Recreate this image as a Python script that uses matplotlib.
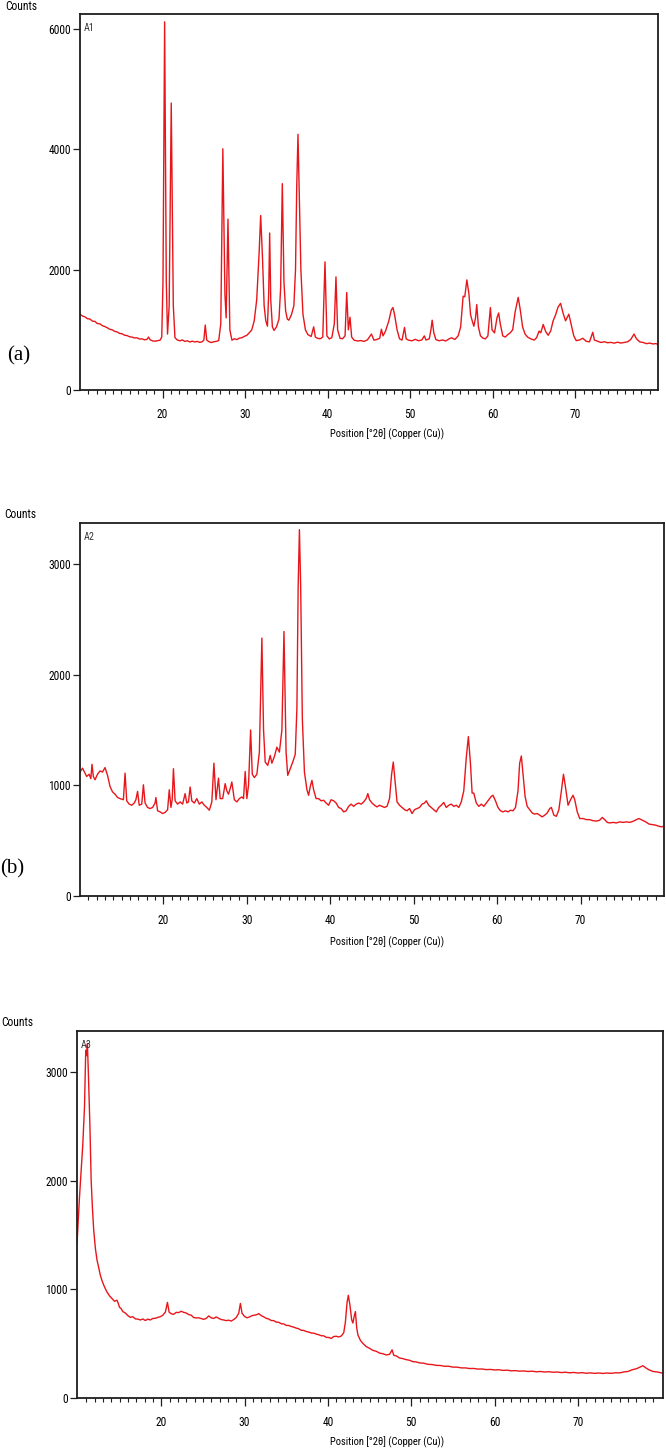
import numpy as np
import matplotlib
matplotlib.use("Agg")
import matplotlib.pyplot as plt
from matplotlib import font_manager
from matplotlib.ticker import FixedLocator

# (2theta, counts)
a1_points = [
    (10.0, 1260), (10.3, 1230), (10.6, 1215), (10.9, 1185), (11.2, 1180), (11.5, 1145),
    (11.8, 1140), (12.1, 1105), (12.4, 1100), (12.7, 1070), (13.0, 1055), (13.3, 1035),
    (13.6, 1010), (13.9, 1000), (14.2, 975), (14.5, 965), (14.8, 940), (15.1, 935),
    (15.4, 910), (15.7, 905), (16.0, 885), (16.3, 880), (16.6, 865), (16.9, 868),
    (17.2, 848), (17.5, 850), (17.8, 835), (18.1, 840), (18.3, 880), (18.5, 835),
    (18.8, 815), (19.1, 812), (19.4, 820), (19.7, 828), (19.9, 880), (20.05, 1800),
    (20.25, 6120), (20.45, 1800), (20.6, 930), (20.8, 1400), (21.05, 4770), (21.3, 1400),
    (21.5, 870), (21.8, 830), (22.1, 818), (22.4, 832), (22.7, 808), (23.0, 818),
    (23.3, 798), (23.6, 812), (23.9, 798), (24.2, 808), (24.5, 792), (24.8, 802),
    (25.0, 830), (25.17, 1080), (25.35, 830), (25.6, 805), (25.9, 788), (26.2, 802),
    (26.5, 808), (26.8, 822), (27.05, 1100), (27.3, 4010), (27.55, 1600), (27.7, 1200),
    (27.92, 2840), (28.15, 1000), (28.4, 828), (28.7, 852), (29.0, 838), (29.3, 862),
    (29.6, 868), (29.9, 892), (30.2, 908), (30.5, 952), (30.8, 1000), (31.1, 1150),
    (31.4, 1500), (31.7, 2300), (31.88, 2900), (32.1, 2200), (32.3, 1400), (32.5, 1150),
    (32.7, 1060), (32.85, 1600), (32.97, 2610), (33.1, 1500), (33.3, 1050), (33.5, 990),
    (33.8, 1050), (34.1, 1180), (34.3, 1700), (34.5, 3430), (34.7, 1800), (34.9, 1320),
    (35.1, 1180), (35.3, 1160), (35.6, 1250), (35.9, 1400), (36.1, 2000), (36.25, 3400),
    (36.4, 4250), (36.55, 3300), (36.75, 2000), (37.0, 1260), (37.3, 1000), (37.6, 920),
    (38.0, 890), (38.3, 1050), (38.5, 880), (38.8, 858), (39.1, 852), (39.4, 880),
    (39.67, 2130), (39.9, 900), (40.2, 848), (40.5, 872), (40.8, 1100), (41.0, 1880),
    (41.2, 1000), (41.5, 858), (41.8, 852), (42.1, 900), (42.3, 1620), (42.5, 1000),
    (42.7, 1210), (42.9, 880), (43.2, 828), (43.6, 815), (44.0, 822), (44.4, 808),
    (44.8, 832), (45.3, 930), (45.6, 828), (46.0, 842), (46.3, 860), (46.5, 1010),
    (46.7, 900), (47.0, 980), (47.4, 1150), (47.7, 1330), (47.9, 1370), (48.1, 1250),
    (48.4, 1000), (48.7, 850), (49.0, 830), (49.3, 1040), (49.5, 850), (49.8, 828),
    (50.2, 818), (50.6, 842), (51.0, 818), (51.4, 832), (51.7, 900), (51.9, 830),
    (52.3, 852), (52.5, 1000), (52.65, 1160), (52.85, 950), (53.1, 838), (53.5, 818),
    (53.9, 832), (54.3, 815), (54.7, 850), (55.0, 868), (55.4, 840), (55.8, 900),
    (56.1, 1050), (56.4, 1560), (56.6, 1550), (56.85, 1830), (57.1, 1600), (57.3, 1250),
    (57.5, 1150), (57.7, 1060), (57.9, 1200), (58.05, 1420), (58.25, 1050), (58.5, 900),
    (58.8, 862), (59.1, 850), (59.4, 900), (59.7, 1370), (59.9, 1000), (60.2, 950),
    (60.5, 1200), (60.7, 1280), (60.9, 1100), (61.2, 900), (61.5, 880), (61.8, 920),
    (62.1, 950), (62.4, 1000), (62.7, 1300), (63.07, 1540), (63.3, 1350), (63.6, 1050),
    (63.9, 930), (64.2, 880), (64.6, 850), (65.0, 830), (65.3, 870), (65.6, 980),
    (65.8, 950), (66.1, 1090), (66.4, 970), (66.7, 910), (67.0, 980), (67.3, 1150),
    (67.6, 1250), (67.9, 1380), (68.2, 1440), (68.5, 1280), (68.8, 1150), (69.2, 1260),
    (69.5, 1080), (69.8, 900), (70.1, 820), (70.5, 832), (70.9, 860), (71.3, 810),
    (71.7, 800), (72.1, 960), (72.3, 830), (72.7, 810), (73.1, 790), (73.5, 802),
    (73.9, 785), (74.3, 792), (74.7, 778), (75.1, 795), (75.5, 780), (75.9, 790),
    (76.3, 800), (76.7, 840), (77.1, 930), (77.4, 850), (77.8, 800), (78.2, 790),
    (78.6, 770), (79.0, 780), (79.4, 765), (79.7, 772), (80.0, 760),
]

a2_points = [
    (10.0, 1120), (10.3, 1155), (10.6, 1110), (10.8, 1080), (11.1, 1100), (11.3, 1060),
    (11.44, 1190), (11.6, 1080), (11.8, 1050), (12.1, 1100), (12.4, 1130), (12.7, 1120),
    (13.0, 1160), (13.3, 1090), (13.6, 990), (13.9, 940), (14.2, 920), (14.5, 890),
    (14.8, 880), (15.2, 870), (15.4, 1110), (15.6, 860), (15.9, 830), (16.2, 820),
    (16.5, 840), (16.7, 870), (16.9, 945), (17.1, 820), (17.4, 830), (17.6, 1005),
    (17.8, 840), (18.1, 800), (18.4, 790), (18.7, 800), (19.0, 840), (19.1, 890),
    (19.3, 770), (19.6, 760), (19.9, 745), (20.2, 755), (20.5, 780), (20.7, 960),
    (20.9, 800), (21.05, 870), (21.2, 1150), (21.4, 860), (21.7, 830), (22.0, 850),
    (22.3, 830), (22.6, 925), (22.8, 840), (23.0, 850), (23.2, 985), (23.4, 860),
    (23.7, 840), (24.0, 880), (24.3, 830), (24.6, 850), (24.9, 820), (25.2, 800),
    (25.5, 775), (25.8, 850), (26.05, 1200), (26.3, 870), (26.6, 1065), (26.8, 880),
    (27.1, 880), (27.4, 1015), (27.6, 950), (27.8, 920), (28.0, 970), (28.2, 1030),
    (28.5, 870), (28.8, 850), (29.1, 880), (29.4, 895), (29.6, 880), (29.8, 1125),
    (30.0, 880), (30.2, 1000), (30.45, 1500), (30.65, 1100), (30.9, 1070), (31.2, 1100),
    (31.5, 1300), (31.8, 2330), (32.0, 1500), (32.2, 1210), (32.5, 1180), (32.8, 1270),
    (33.0, 1200), (33.3, 1260), (33.6, 1345), (33.9, 1300), (34.2, 1500), (34.45, 2390),
    (34.7, 1300), (34.9, 1090), (35.2, 1150), (35.5, 1210), (35.8, 1280), (36.0, 1700),
    (36.15, 2800), (36.3, 3310), (36.45, 2800), (36.65, 1600), (36.9, 1120), (37.2, 960),
    (37.4, 910), (37.6, 990), (37.8, 1045), (38.0, 960), (38.3, 880), (38.6, 880),
    (38.9, 860), (39.2, 865), (39.5, 840), (39.8, 820), (40.1, 870), (40.4, 860),
    (40.7, 840), (41.0, 800), (41.3, 790), (41.6, 760), (41.9, 770), (42.2, 810),
    (42.5, 830), (42.8, 810), (43.1, 830), (43.4, 840), (43.7, 830), (44.0, 850),
    (44.3, 880), (44.5, 925), (44.7, 870), (45.0, 840), (45.3, 820), (45.6, 805),
    (45.9, 820), (46.2, 810), (46.5, 800), (46.8, 810), (47.1, 880), (47.35, 1100),
    (47.55, 1210), (47.75, 1050), (48.0, 850), (48.3, 820), (48.6, 800), (48.9, 780),
    (49.2, 770), (49.5, 790), (49.8, 745), (50.1, 780), (50.4, 790), (50.7, 800),
    (51.0, 830), (51.3, 840), (51.5, 860), (51.8, 820), (52.1, 800), (52.4, 780),
    (52.7, 760), (53.0, 800), (53.3, 820), (53.6, 845), (53.9, 800), (54.2, 820),
    (54.5, 830), (54.8, 810), (55.1, 820), (55.4, 800), (55.7, 850), (56.0, 950),
    (56.3, 1250), (56.55, 1440), (56.8, 1200), (57.0, 930), (57.2, 930), (57.5, 840),
    (57.8, 810), (58.1, 830), (58.4, 810), (58.7, 840), (59.0, 870), (59.3, 900),
    (59.5, 910), (59.8, 860), (60.1, 800), (60.4, 770), (60.7, 760), (61.0, 770),
    (61.3, 760), (61.6, 775), (61.9, 770), (62.2, 800), (62.5, 950), (62.7, 1200),
    (62.9, 1265), (63.1, 1100), (63.35, 900), (63.6, 810), (63.9, 780), (64.2, 750),
    (64.5, 740), (64.8, 745), (65.1, 730), (65.4, 715), (65.7, 730), (66.0, 750),
    (66.3, 790), (66.5, 800), (66.8, 730), (67.1, 720), (67.4, 780), (67.7, 950),
    (67.95, 1100), (68.2, 980), (68.5, 820), (68.8, 870), (69.1, 910), (69.3, 870),
    (69.6, 760), (69.9, 700), (70.3, 700), (70.7, 690), (71.1, 690), (71.5, 680),
    (71.9, 677), (72.3, 685), (72.6, 710), (72.9, 690), (73.2, 665), (73.5, 660),
    (73.9, 665), (74.3, 660), (74.7, 670), (75.1, 665), (75.5, 670), (75.9, 665),
    (76.3, 675), (76.7, 690), (77.0, 700), (77.4, 685), (77.8, 670), (78.2, 650),
    (78.6, 645), (79.0, 640), (79.4, 630), (79.7, 625), (80.0, 630),
]

a3_points = [
    (9.9, 1420), (10.2, 1850), (10.4, 2100), (10.6, 2340), (10.8, 2680), (10.95, 3200),
    (11.05, 3150), (11.15, 3260), (11.3, 2900), (11.45, 2500), (11.6, 2000), (11.75, 1750),
    (11.9, 1550), (12.1, 1380), (12.3, 1270), (12.5, 1200), (12.7, 1130), (12.9, 1080),
    (13.1, 1040), (13.3, 1005), (13.5, 975), (13.8, 940), (14.1, 915), (14.4, 890),
    (14.7, 900), (14.85, 870), (15.0, 835), (15.2, 822), (15.4, 795), (15.7, 782),
    (16.0, 758), (16.3, 742), (16.6, 748), (16.9, 728), (17.2, 726), (17.5, 718),
    (17.8, 727), (18.1, 713), (18.4, 726), (18.7, 718), (19.0, 732), (19.3, 733),
    (19.6, 742), (19.9, 748), (20.2, 762), (20.5, 790), (20.75, 880), (20.95, 790),
    (21.2, 775), (21.5, 770), (21.8, 788), (22.1, 786), (22.4, 798), (22.7, 788),
    (23.0, 782), (23.3, 768), (23.6, 762), (23.9, 740), (24.2, 737), (24.5, 738),
    (24.8, 731), (25.1, 724), (25.4, 732), (25.7, 755), (26.0, 738), (26.3, 732),
    (26.6, 746), (26.9, 733), (27.2, 722), (27.5, 718), (27.8, 712), (28.1, 716),
    (28.4, 708), (28.7, 722), (29.0, 740), (29.3, 780), (29.5, 870), (29.7, 780),
    (30.0, 750), (30.3, 738), (30.6, 746), (30.9, 758), (31.2, 762), (31.5, 768),
    (31.7, 777), (32.0, 758), (32.3, 747), (32.6, 733), (32.9, 727), (33.2, 713),
    (33.5, 712), (33.8, 698), (34.1, 697), (34.4, 683), (34.7, 682), (35.0, 668),
    (35.3, 667), (35.6, 658), (35.9, 652), (36.2, 643), (36.5, 637), (36.8, 623),
    (37.1, 622), (37.4, 612), (37.7, 607), (38.0, 598), (38.3, 597), (38.6, 588),
    (38.9, 582), (39.2, 573), (39.5, 572), (39.8, 558), (40.1, 557), (40.4, 548),
    (40.7, 566), (41.0, 568), (41.3, 562), (41.6, 570), (41.9, 600), (42.1, 700),
    (42.3, 880), (42.45, 945), (42.65, 850), (42.85, 720), (43.0, 690), (43.15, 750),
    (43.3, 795), (43.45, 650), (43.6, 580), (43.9, 530), (44.2, 502), (44.6, 473),
    (45.0, 457), (45.4, 438), (45.8, 430), (46.2, 413), (46.6, 407), (47.0, 396),
    (47.4, 402), (47.7, 443), (47.9, 393), (48.2, 387), (48.6, 368), (49.0, 362),
    (49.4, 353), (49.8, 347), (50.2, 334), (50.6, 332), (51.0, 323), (51.5, 320),
    (52.0, 310), (52.5, 308), (53.0, 300), (53.5, 299), (54.0, 292), (54.5, 292),
    (55.0, 284), (55.5, 284), (56.0, 277), (56.5, 277), (57.0, 271), (57.5, 272),
    (58.0, 266), (58.5, 267), (59.0, 261), (59.5, 263), (60.0, 258), (60.5, 260),
    (61.0, 254), (61.5, 256), (62.0, 250), (62.5, 252), (63.0, 247), (63.5, 249),
    (64.0, 244), (64.5, 247), (65.0, 241), (65.5, 244), (66.0, 239), (66.5, 242),
    (67.0, 237), (67.5, 239), (68.0, 234), (68.5, 237), (69.0, 232), (69.5, 235),
    (70.0, 230), (70.5, 233), (71.0, 228), (71.5, 231), (72.0, 227), (72.5, 230),
    (73.0, 226), (73.5, 230), (74.0, 227), (74.5, 232), (75.0, 231), (75.5, 240),
    (76.0, 244), (76.5, 260), (77.0, 269), (77.5, 287), (77.8, 297), (78.1, 279),
    (78.5, 260), (79.0, 244), (79.5, 240), (80.0, 231), (80.2, 229),
]

tags = ['A1', 'A2', 'A3']
panel_letters = ['(a)', '(b)']
xlabel = 'Position [°2θ] (Copper (Cu))'
xticks = [20, 30, 40, 50, 60, 70]
xminor = list(range(11, 80))
yticks = [[0, 2000, 4000, 6000], [0, 1000, 2000, 3000], [0, 1000, 2000, 3000]]

# pick a narrow sans font if one is installed
installed = {(f.name, f.stretch) for f in font_manager.fontManager.ttflist}
names = {n for n, s in installed}
font_kw = None
for cand in ['Liberation Sans Narrow', 'Arial Narrow', 'Roboto Condensed',
             'Open Sans Condensed', 'Noto Sans Condensed', 'DejaVu Sans Condensed']:
    if cand in names:
        font_kw = dict(family=cand)
        break
if font_kw is None:
    cond = [n for n, s in installed
            if str(s).lower() in ('condensed', 'semi-condensed', 'extra-condensed', '75', '87', '62')
            and n in ('DejaVu Sans', 'Noto Sans', 'Open Sans', 'Roboto', 'Liberation Sans')]
    if cond:
        font_kw = dict(family=cond[0], stretch='condensed')
fs = 8.3
fs_label = 7.6
if font_kw is None:
    font_kw = dict(family='DejaVu Sans')
    fs = 6.6
    fs_label = 6.2
plt.rcParams['font.family'] = [font_kw['family'], 'DejaVu Sans']
if 'stretch' in font_kw:
    plt.rcParams['font.stretch'] = font_kw['stretch']

W, H = 666, 1449
# axes boxes in pixels: left, top, right, bottom
boxes = [(80, 14, 658, 390), (80, 523, 664, 896), (77, 1031, 663, 1398)]
xlims = [(10.0, 80.0), (10.0, 80.0), (9.9, 80.2)]
ylims = [(0, 6250), (0, 3370), (0, 3377)]
counts_xy = [(21, 6), (20, 515), (17, 1023)]
label_y = [434, 942, 1442]
letter_xy = [(19, 356), (12, 869)]

red = '#e8161b'
dark = '#1e1e1e'

fig = plt.figure(figsize=(W / 100, H / 100), dpi=100)

datasets = [a1_points, a2_points, a3_points]
for i, pts in enumerate(datasets):
    l, t, r, b = boxes[i]
    ax = fig.add_axes([l / W, 1 - b / H, (r - l) / W, (b - t) / H])
    arr = np.array(pts, dtype=float)
    ax.plot(arr[:, 0], arr[:, 1], color=red, lw=1.0)
    ax.set_xlim(*xlims[i])
    ax.set_ylim(*ylims[i])
    ax.xaxis.set_major_locator(FixedLocator(xticks))
    ax.xaxis.set_minor_locator(FixedLocator(xminor))
    ax.yaxis.set_major_locator(FixedLocator(yticks[i]))
    ax.tick_params(axis='x', which='major', length=5.5, width=0.9, color=dark,
                   labelsize=fs, pad=7.5)
    ax.tick_params(axis='x', which='minor', length=3, width=0.8, color=dark)
    ax.tick_params(axis='y', which='major', length=5, width=0.9, color=dark,
                   labelsize=fs, pad=1.5)
    for s in ax.spines.values():
        s.set_linewidth(1.3)
        s.set_color(dark)
    ax.text(0.006, 0.975, tags[i], transform=ax.transAxes, fontsize=fs - 1,
            color='#333333', va='top', ha='left')
    cx, cy = counts_xy[i]
    fig.text(cx / W, 1 - cy / H, 'Counts', fontsize=fs, ha='center', va='center')
    fig.text(387 / W, 1 - label_y[i] / H, xlabel, fontsize=fs_label, ha='center', va='center')

for (lx, ly), letter in zip(letter_xy, panel_letters):
    fig.text(lx / W, 1 - ly / H, letter, fontsize=15, ha='center', va='center',
             family='Liberation Serif')

fig.savefig('out.png', dpi=100)
